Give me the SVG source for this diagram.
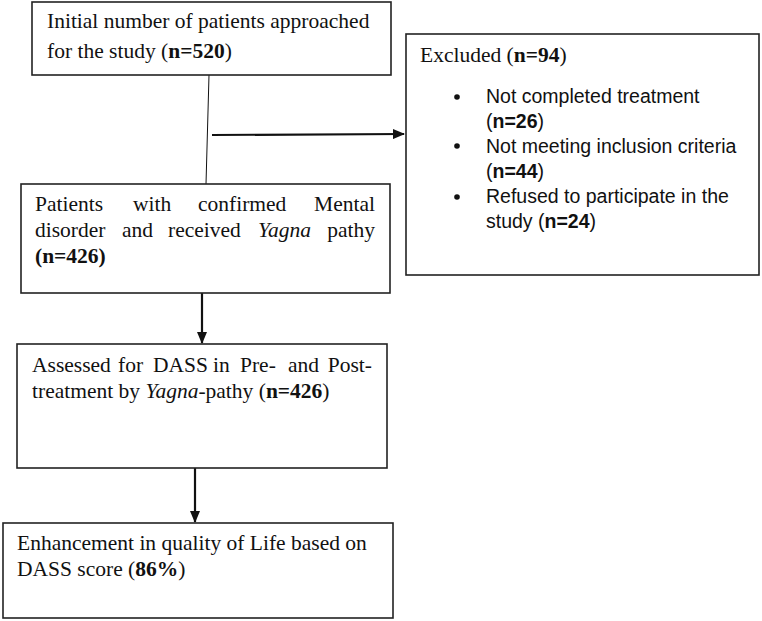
<svg xmlns="http://www.w3.org/2000/svg" width="762" height="621" viewBox="0 0 762 621">
<style>
.box{fill:#fff;stroke:#222;stroke-width:1.6}
.t{font-family:"Liberation Serif","Times New Roman",serif;font-size:21.5px;fill:#111}
.a{font-family:"Liberation Sans",Arial,sans-serif;font-size:19.5px;fill:#111}
.b{font-weight:bold}
.i{font-style:italic}
.ln{stroke:#111;fill:none}
</style>
<defs>
<marker id="ah" markerWidth="12" markerHeight="10" refX="11" refY="5" orient="auto" markerUnits="userSpaceOnUse">
<path d="M0,0 L12,5 L0,10 Z" fill="#111"/>
</marker>
</defs>
<rect width="762" height="621" fill="#fff"/>
<g id="connectors">
<line class="ln" x1="209" y1="75" x2="206" y2="184" stroke-width="1"/>
<line class="ln" x1="212" y1="135" x2="404" y2="134" stroke-width="2.2" marker-end="url(#ah)"/>
<line class="ln" x1="202" y1="293" x2="202" y2="343" stroke-width="2.2" marker-end="url(#ah)"/>
<line class="ln" x1="195" y1="468" x2="195" y2="522" stroke-width="2.2" marker-end="url(#ah)"/>
</g>
<g id="n1">
<rect class="box" x="32" y="2" width="359" height="73"/>
<text class="t" x="47" y="28">Initial number of patients approached</text>
<text class="t" x="47" y="58">for the study (<tspan class="b">n=520</tspan>)</text>
</g>
<g id="n2">
<rect class="box" x="406" y="34" width="353" height="241"/>
<text class="t" x="420" y="62">Excluded (<tspan class="b">n=94</tspan>)</text>
<circle cx="457" cy="97" r="2.8" fill="#111"/>
<circle cx="457" cy="146" r="2.8" fill="#111"/>
<circle cx="457" cy="197" r="2.8" fill="#111"/>
<text class="a" x="486" y="103">Not completed treatment</text>
<text class="a" x="486" y="128">(<tspan class="b">n=26</tspan>)</text>
<text class="a" x="486" y="153">Not meeting inclusion criteria</text>
<text class="a" x="486" y="178">(<tspan class="b">n=44</tspan>)</text>
<text class="a" x="486" y="203">Refused to participate in the</text>
<text class="a" x="486" y="228">study (<tspan class="b">n=24</tspan>)</text>
</g>
<g id="n3">
<rect class="box" x="21" y="184" width="369" height="109"/>
<text class="t" y="211"><tspan x="35">Patients</tspan><tspan x="133">with</tspan><tspan x="198">confirmed</tspan><tspan x="375" text-anchor="end">Mental</tspan></text>
<text class="t" y="237"><tspan x="35">disorder</tspan><tspan x="122">and</tspan><tspan x="168">received</tspan><tspan x="258" class="i">Yagna</tspan><tspan x="375" text-anchor="end">pathy</tspan></text>
<text class="t b" x="35" y="263">(n=426)</text>
</g>
<g id="n4">
<rect class="box" x="17" y="344" width="370" height="124"/>
<text class="t" y="372"><tspan x="32">Assessed</tspan><tspan x="118">for</tspan><tspan x="153">DASS</tspan><tspan x="213">in</tspan><tspan x="240">Pre-</tspan><tspan x="288">and</tspan><tspan x="372" text-anchor="end">Post-</tspan></text>
<text class="t" x="32" y="398">treatment by <tspan class="i">Yagna</tspan>-pathy (<tspan class="b">n=426</tspan>)</text>
</g>
<g id="n5">
<rect class="box" x="3" y="523" width="390" height="95"/>
<text class="t" x="17" y="550">Enhancement in quality of Life based on</text>
<text class="t" x="17" y="576">DASS score (<tspan class="b">86%</tspan>)</text>
</g>
</svg>
